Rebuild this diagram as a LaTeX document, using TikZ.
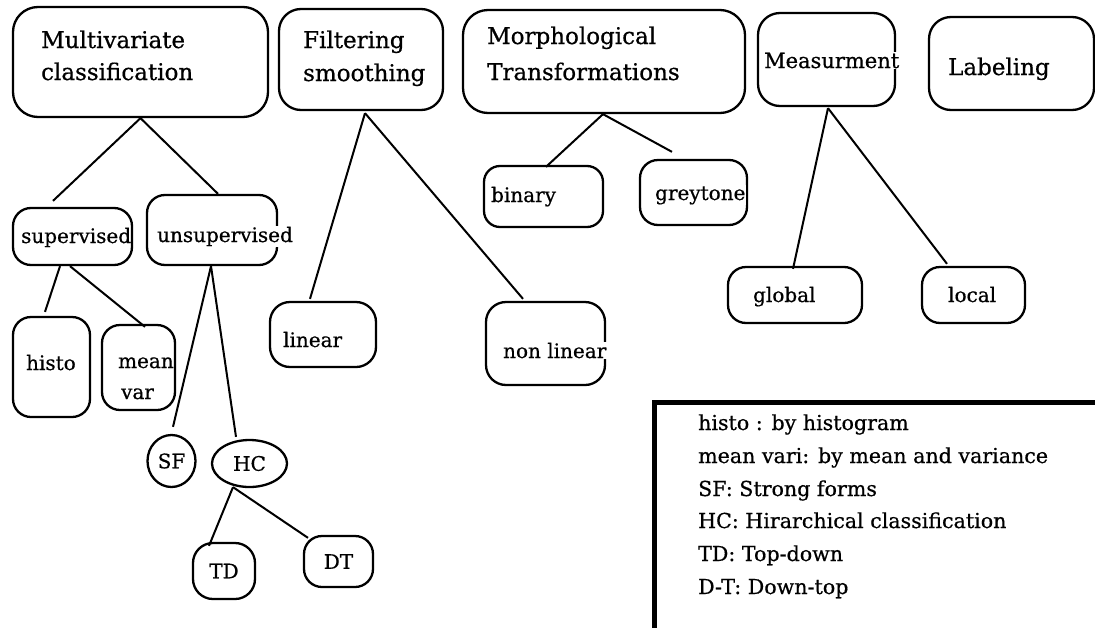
\documentclass[tikz,border=0pt]{standalone}
\usepackage{fontspec}
\setmainfont{DejaVu Serif}[FakeBold=0.6]
\usetikzlibrary{calc,shapes.geometric}

\begin{document}
\begin{tikzpicture}[x=1pt, y=-1pt, line width=2.3pt,
  box/.style={draw, rounded corners=#1, inner sep=0pt},
  box/.default=16pt,
  oval/.style={draw, ellipse, inner sep=0pt},
  link/.style={draw, line width=2pt},
  big/.style={font=\fontsize{23}{28}\selectfont},
  small/.style={font=\fontsize{20}{24}\selectfont},
  legendtxt/.style={font=\fontsize{20.6}{26}\selectfont},
  tx/.style={inner sep=0pt, anchor=base west},
  txw/.style={inner sep=1pt, anchor=base west, fill=white},
  legendbox/.style={draw, line width=4.5pt, inner sep=0pt, anchor=north west}]

% page
\fill[white] (0,0) rectangle (1095,627);
\useasboundingbox (0,0) rectangle (1095,627);

% top level categories
\node[box=25pt, minimum width=255, minimum height=110] (mult)  at (140.5,62) {};
\node[box=22pt, minimum width=164, minimum height=101] (filt)  at (361,59.5) {};
\node[box=25pt, minimum width=282, minimum height=103] (morph) at (604,61.5) {};
\node[box=22pt, minimum width=137, minimum height=93]  (meas)  at (826.5,59.5) {};
\node[box=22pt, minimum width=165, minimum height=93]  (label) at (1011.5,63.5) {};

\node[tx, big] (mult-a)  at (40,48)  {Multivariate};
\node[tx, big] (mult-b)  at (40,80)  {classification};
\node[tx, big] (filt-a)  at (302,48) {Filtering};
\node[tx, big] (filt-b)  at (302,81) {smoothing};
\node[tx, big] (morph-a) at (486,44) {Morphological};
\node[tx, big] (morph-b) at (486,80) {Transformations};
\node[txw, font=\fontsize{21}{24}\selectfont] (meas-a) at (762,68) {Measurment};
\node[tx, big] (label-a) at (947,75) {Labeling};

% second level
\node[box=18pt, minimum width=119, minimum height=57]  (sup)     at (72.5,236.5) {};
\node[box=18pt, minimum width=130, minimum height=70]  (unsup)   at (212,230) {};
\node[box=18pt, minimum width=77,  minimum height=100] (histo)   at (51.5,367) {};
\node[box=18pt, minimum width=73,  minimum height=85]  (meanvar) at (138.5,367.5) {};
\node[box=20pt, minimum width=106, minimum height=65]  (linear)  at (323,334.5) {};
\node[box=20pt, minimum width=119, minimum height=83]  (nonlin)  at (545.5,343.5) {};
\node[box=16pt, minimum width=119, minimum height=61]  (binary)  at (543.5,196.5) {};
\node[box=18pt, minimum width=107, minimum height=65]  (grey)    at (693.5,192.5) {};
\node[box=18pt, minimum width=134, minimum height=56]  (global)  at (795,295) {};
\node[box=18pt, minimum width=103, minimum height=56]  (local)   at (973.5,295) {};

\node[tx, small]  (sup-a)     at (20,243)  {supervised};
\node[txw, small] (unsup-a)   at (155,242) {unsupervised};
\node[tx, small]  (histo-a)   at (25,370)  {histo};
\node[tx, small]  (meanvar-a) at (117,368) {mean};
\node[tx, small]  (meanvar-b) at (120,399) {var};
\node[tx, small]  (linear-a)  at (282,347) {linear};
\node[txw, small] (nonlin-a)  at (501,358) {non linear};
\node[tx, small]  (binary-a)  at (490,202) {binary};
\node[txw, small] (grey-a)    at (653,200) {greytone};
\node[tx, small]  (global-a)  at (752,302) {global};
\node[tx, small]  (local-a)   at (947,302) {local};

% third and fourth level
\node[oval, small, minimum width=48, minimum height=52] (sf) at (171.5,461) {SF};
\node[oval, small, minimum width=75, minimum height=47] (hc) at (249.5,463.5) {HC};
\node[box=20pt, small, minimum width=62, minimum height=56] (td) at (224,571) {TD};
\node[box=18pt, small, minimum width=69, minimum height=51] (dt) at (338.5,561.5) {DT};

% connectors
\draw[link] (mult.south) -- ($(sup.north)+(-19.5,-6)$);
\draw[link] (mult.south) -- ($(unsup.north)+(6,0)$);
\draw[link] ($(sup.south)+(-12.5,0)$) -- ($(histo.north)+(-6.5,-4)$);
\draw[link] ($(sup.south)+(-2.5,0)$) -- ($(meanvar.north)+(6.5,3)$);
\draw[link] ($(unsup.south)+(-1,0)$) -- ($(sf.north)+(1.5,-7)$);
\draw[link] ($(unsup.south)+(-1,0)$) -- ($(hc.north)+(-13.5,-2)$);
\draw[link] ($(hc.south)+(-16.5,-1)$) -- ($(td.north)+(-15,4)$);
\draw[link] ($(hc.south)+(-16.5,-1)$) -- ($(dt.north)+(-30.5,3)$);
\draw[link] ($(filt.south)+(4,2)$) -- ($(linear.north)+(-13,-2)$);
\draw[link] ($(filt.south)+(4,2)$) -- ($(nonlin.north)+(-22.5,-2)$);
\draw[link] ($(morph.south)+(-1,0)$) -- ($(binary.north)+(2.5,2)$);
\draw[link] ($(morph.south)+(-1,0)$) -- ($(grey.north)+(-21.5,-7)$);
\draw[link] ($(meas.south)+(1.5,1)$) -- ($(global.north)+(-2,3)$);
\draw[link] ($(meas.south)+(1.5,1)$) -- ($(local.north)+(-26.5,-2)$);

% legend
\node[legendbox, minimum width=480, minimum height=260] (legend) at (652,400) {};
\node[tx, legendtxt] (leg1) at (697,430) {histo : by histogram};
\node[tx, legendtxt] (leg2) at (697,463) {mean vari: by mean and variance};
\node[tx, legendtxt] (leg3) at (697,496) {SF: Strong forms};
\node[tx, legendtxt] (leg4) at (697,528) {HC: Hirarchical classification};
\node[tx, legendtxt] (leg5) at (697,561) {TD: Top-down};
\node[tx, legendtxt] (leg6) at (697,594) {D-T: Down-top};
\end{tikzpicture}
\end{document}
